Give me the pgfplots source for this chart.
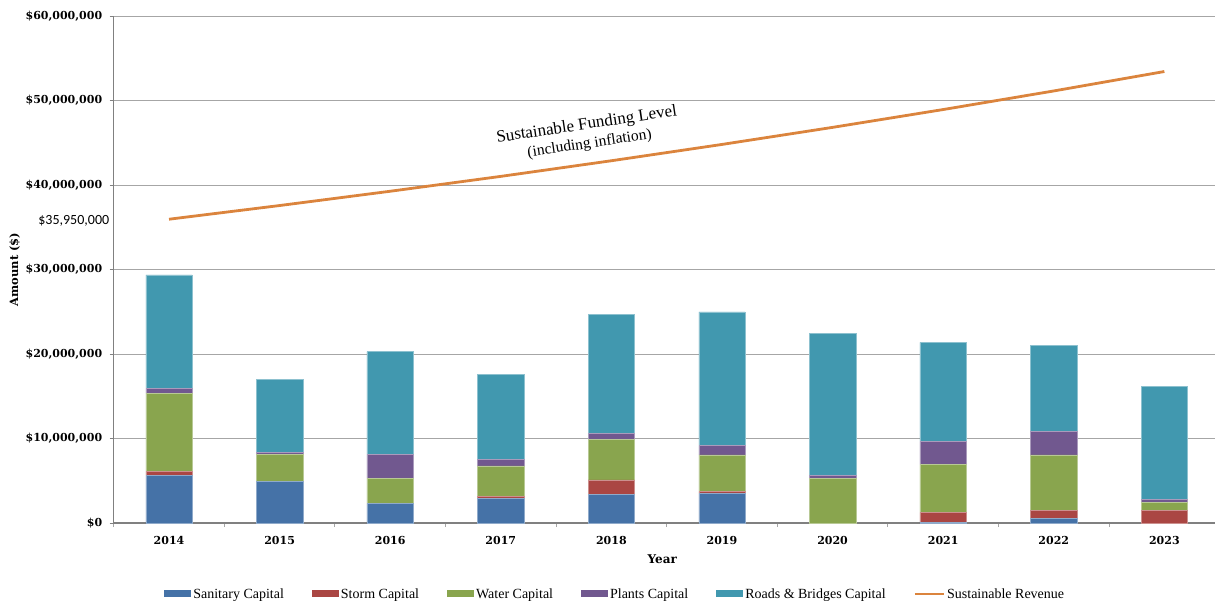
\documentclass[border=0pt]{standalone}
\usepackage{pgfplots}
\pgfplotsset{compat=1.18}
\usepackage{fontspec}
\setmainfont{Liberation Serif}
\newfontfamily\tickfont{DejaVu Serif}
\newfontfamily\calfont{Carlito}
\definecolor{csan}{HTML}{4572A7}
\definecolor{csto}{HTML}{AA4643}
\definecolor{cwat}{HTML}{89A54E}
\definecolor{cpla}{HTML}{71588F}
\definecolor{croa}{HTML}{4198AF}
\definecolor{corg}{HTML}{DB843D}
\definecolor{cgrid}{HTML}{A6A6A6}
\newcommand\extralbl{\$35,950,000}
\pgfplotsset{rectleg/.style={legend image code/.code={\fill[##1,draw=none] (0pt,-3.5pt) rectangle (27pt,3.5pt);}}}
\begin{document}
\begin{tikzpicture}[x=1pt,y=1pt]
\begin{axis}[
  at={(0pt,0pt)}, anchor=south west,
  scale only axis, width=1106pt, height=507pt,
  xmin=-0.5, xmax=9.5, ymin=0, ymax=60000000,
  ybar stacked, bar width=0.42,
  axis x line*=bottom, axis y line*=left,
  axis line style={-},
  x axis line style={draw=gray, line width=1.8pt},
  y axis line style={draw=gray, line width=0.9pt},
  ymajorgrids, major grid style={draw=cgrid, line width=1pt},
  tick align=outside,
  xtick={0,1,2,3,4,5,6,7,8,9},
  xticklabels={2014,2015,2016,2017,2018,2019,2020,2021,2022,2023},
  major x tick style={draw=none},
  minor xtick={-0.5,0.5,1.5,2.5,3.5,4.5,5.5,6.5,7.5,8.5,9.5},
  minor tick length=4pt,
  minor x tick style={draw=cgrid, line width=0.8pt},
  ytick={0,10000000,20000000,30000000,40000000,50000000,60000000},
  yticklabels={{\$0},{\$10,000,000},{\$20,000,000},{\$30,000,000},{\$40,000,000},{\$50,000,000},{\$60,000,000}},
  scaled y ticks=false,
  major tick length=4pt,
  major y tick style={draw=gray, line width=0.8pt},
  /pgf/number format/assume math mode=true,
  ticklabel style={font=\tickfont\bfseries\fontsize{11}{13}\selectfont},
  yticklabel style={xshift=-4pt},
  xticklabel style={yshift=-6pt},
  extra y ticks={35950000},
  extra y tick labels={\extralbl},
  extra y tick style={grid=none, major tick length=0pt, yticklabel style={font=\calfont\fontsize{14}{16}\selectfont, xshift=3pt, yshift=-2pt}},
  ylabel={Amount (\$)}, xlabel={Year},
  every axis y label/.style={at={(axis description cs:0,0.5)}, xshift=-99pt, rotate=90, anchor=center, font=\tickfont\bfseries\fontsize{11.5}{13}\selectfont},
  every axis x label/.style={at={(axis description cs:0.496,0)}, yshift=-36pt, anchor=center, font=\tickfont\bfseries\fontsize{12}{14}\selectfont},
  legend columns=6,
  legend style={at={(axis description cs:0.4535,-0.14)}, anchor=center, draw=none, fill=none,
    font=\fontsize{14}{16}\selectfont,
    /tikz/every even column/.append style={column sep=26pt},
    nodes={inner sep=2pt}},
]
\addplot[fill=csan, draw=csan!60!white, line width=0.5pt, rectleg] coordinates {(0,5630000) (1,4890000) (2,2280000) (3,2880000) (4,3350000) (5,3470000) (6,0) (7,100000) (8,510000) (9,0)};
\addplot[fill=csto, draw=csto!60!white, line width=0.5pt, rectleg] coordinates {(0,490000) (1,50000) (2,0) (3,280000) (4,1740000) (5,230000) (6,0) (7,1170000) (8,990000) (9,1460000)};
\addplot[fill=cwat, draw=cwat!60!white, line width=0.5pt, rectleg] coordinates {(0,9260000) (1,3140000) (2,3010000) (3,3590000) (4,4770000) (5,4350000) (6,5290000) (7,5630000) (8,6550000) (9,990000)};
\addplot[fill=cpla, draw=cpla!60!white, line width=0.5pt, rectleg] coordinates {(0,560000) (1,320000) (2,2840000) (3,740000) (4,710000) (5,1120000) (6,310000) (7,2770000) (8,2750000) (9,310000)};
\addplot[fill=croa, draw=croa!60!white, line width=0.5pt, rectleg] coordinates {(0,13410000) (1,8560000) (2,12140000) (3,10140000) (4,14130000) (5,15830000) (6,16800000) (7,11710000) (8,10180000) (9,13420000)};
\addlegendimage{legend image code/.code={\draw[corg, line width=2.5pt] (0pt,0pt) -- (29pt,0pt);}}
\legend{Sanitary Capital, Storm Capital, Water Capital, Plants Capital, Roads \& Bridges Capital, Sustainable Revenue}
\end{axis}
\begin{axis}[
  at={(0pt,0pt)}, anchor=south west,
  scale only axis, width=1106pt, height=507pt,
  xmin=-0.5, xmax=9.5, ymin=0, ymax=60000000,
  hide axis, clip=false,
]
\addplot[color=corg, line width=2.8pt, mark=none] coordinates {(0,35950000) (1,37570000) (2,39260000) (3,41020000) (4,42870000) (5,44800000) (6,46820000) (7,48930000) (8,51130000) (9,53430000)};
\node[rotate=8.5, align=center, font=\fontsize{17}{17}\selectfont, inner sep=1pt] at (axis cs:3.79,46000000) {Sustainable Funding Level\\[2pt]{\fontsize{15.5}{15.5}\selectfont (including inflation)}};
\end{axis}
\pgfresetboundingbox
\useasboundingbox (-113.7pt,-80pt) rectangle (1101.3pt,523pt);
\end{tikzpicture}
\end{document}
